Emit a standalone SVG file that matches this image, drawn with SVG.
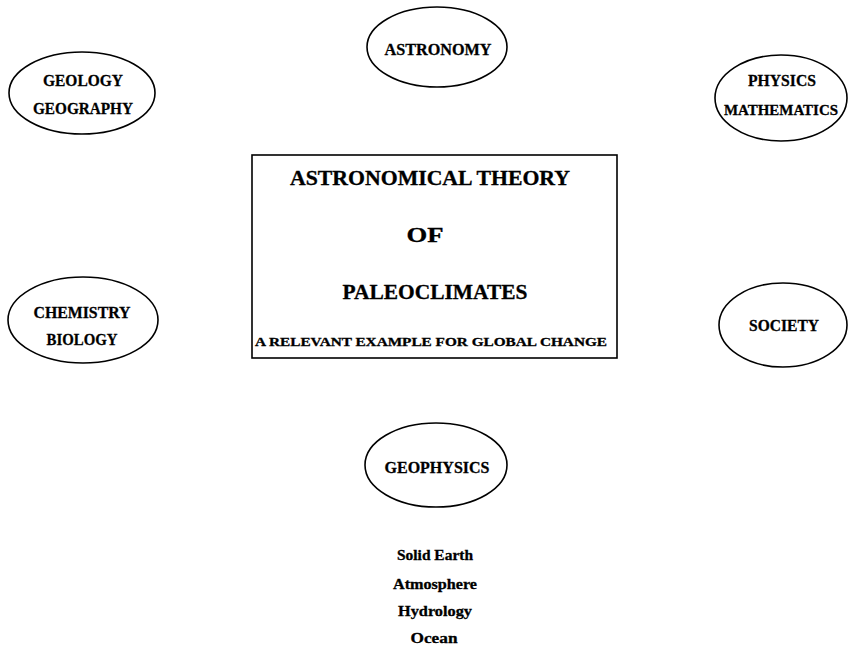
<svg xmlns="http://www.w3.org/2000/svg" width="848" height="653" viewBox="0 0 848 653">
<style>
.bg{fill:#fff}
ellipse,rect.box{fill:#fff;stroke:#000;stroke-width:1.6}
text{font-family:"Liberation Serif","DejaVu Serif",serif;font-weight:bold;fill:#000;text-anchor:middle;stroke:#000;stroke-width:0.3}
.n{font-size:17px}
.m{font-size:15.5px}
.t{font-size:20px}
.s{font-size:12px}
.l{font-size:14.5px}
</style>
<rect class="bg" x="0" y="0" width="848" height="653"/>
<g id="connectors"></g>
<g id="geology">
<ellipse cx="82" cy="93" rx="73" ry="41"/>
<text class="n" x="83" y="86" textLength="80" lengthAdjust="spacingAndGlyphs">GEOLOGY</text>
<text class="n" x="83" y="114" textLength="100" lengthAdjust="spacingAndGlyphs">GEOGRAPHY</text>
</g>
<g id="astronomy">
<ellipse cx="437" cy="47" rx="70" ry="40"/>
<text class="n" x="438" y="55" textLength="107" lengthAdjust="spacingAndGlyphs">ASTRONOMY</text>
</g>
<g id="physics">
<ellipse cx="781" cy="98" rx="66" ry="43"/>
<text class="n" x="782" y="86" textLength="68" lengthAdjust="spacingAndGlyphs">PHYSICS</text>
<text class="n m" x="781" y="115" textLength="114" lengthAdjust="spacingAndGlyphs">MATHEMATICS</text>
</g>
<g id="chemistry">
<ellipse cx="83" cy="320" rx="75" ry="43"/>
<text class="n" x="82" y="318" textLength="97" lengthAdjust="spacingAndGlyphs">CHEMISTRY</text>
<text class="n" x="82" y="345" textLength="71" lengthAdjust="spacingAndGlyphs">BIOLOGY</text>
</g>
<g id="society">
<ellipse cx="783" cy="325" rx="64" ry="42"/>
<text class="n" x="784" y="331" textLength="70" lengthAdjust="spacingAndGlyphs">SOCIETY</text>
</g>
<g id="theory">
<rect class="box" x="252" y="155" width="365" height="203"/>
<text class="t" x="430" y="185" textLength="280" lengthAdjust="spacingAndGlyphs">ASTRONOMICAL THEORY</text>
<text class="t" x="425" y="242" textLength="37" lengthAdjust="spacingAndGlyphs">OF</text>
<text class="t" x="435" y="299" textLength="185" lengthAdjust="spacingAndGlyphs">PALEOCLIMATES</text>
<text class="s" x="431" y="346" textLength="352" lengthAdjust="spacingAndGlyphs">A RELEVANT EXAMPLE FOR GLOBAL CHANGE</text>
</g>
<g id="geophysics">
<ellipse cx="436" cy="465" rx="71" ry="42"/>
<text class="n" x="437" y="473" textLength="105" lengthAdjust="spacingAndGlyphs">GEOPHYSICS</text>
</g>
<g id="list">
<text class="l" x="435" y="560" textLength="76" lengthAdjust="spacingAndGlyphs">Solid Earth</text>
<text class="l" x="435" y="589" textLength="84" lengthAdjust="spacingAndGlyphs">Atmosphere</text>
<text class="l" x="435" y="616" textLength="74" lengthAdjust="spacingAndGlyphs">Hydrology</text>
<text class="l" x="434" y="643" textLength="47" lengthAdjust="spacingAndGlyphs">Ocean</text>
</g>
</svg>
